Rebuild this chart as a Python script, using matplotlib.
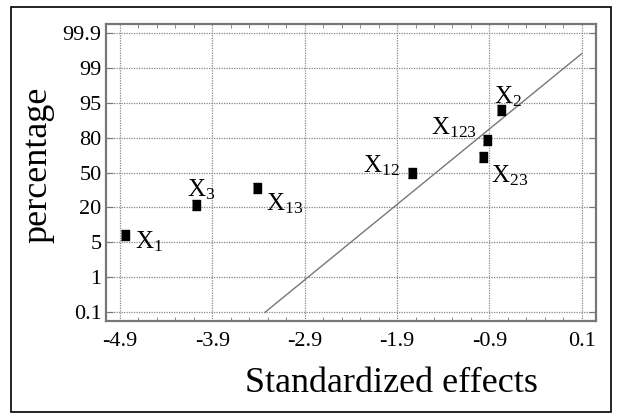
import numpy as np
import matplotlib
matplotlib.use("Agg")
import matplotlib.pyplot as plt
from matplotlib.ticker import FixedLocator
from matplotlib.patches import Rectangle
from statistics import NormalDist

plt.rcParams["font.family"] = "Liberation Serif"
plt.rcParams["mathtext.fontset"] = "custom"
plt.rcParams["mathtext.rm"] = "Liberation Serif"
plt.rcParams["mathtext.it"] = "Liberation Serif"

# data
names = ["1", "3", "13", "12", "23", "123", "2"]
effects = [-4.85, -4.08, -3.42, -1.74, -0.97, -0.93, -0.78]
percents = [7.14, 21.43, 35.71, 50.0, 64.29, 78.57, 92.86]
line_x = [-3.33, 0.1]
line_pct = [0.1, 99.58]

y_ticks = [0.1, 1, 5, 20, 50, 80, 95, 99, 99.9]
y_labels = ["0.1", "1", "5", "20", "50", "80", "95", "99", "99.9"]
x_ticks = [-4.9, -3.9, -2.9, -1.9, -0.9, 0.1]
x_labels = ["-4.9", "-3.9", "-2.9", "-1.9", "-0.9", "0.1"]

# label offsets in pixels (x, y) and alignment
lab_off = [(10, -14, "left"), (-9, 9, "left"), (9, -23, "left"), (-12, 0, "right"),
           (8, -25, "left"), (-10, 5, "right"), (-7, 7, "left")]

# probability axis: tick percentages equally spaced, normal quantiles in between
nd = NormalDist()
zt = np.array([nd.inv_cdf(p / 100) for p in y_ticks])
it = np.arange(len(y_ticks), dtype=float)


def _pw(x, xs, ys):
    x = np.asarray(x, dtype=float)
    y = np.interp(x, xs, ys)
    lo = x < xs[0]
    hi = x > xs[-1]
    y = np.where(lo, ys[0] + (x - xs[0]) * (ys[1] - ys[0]) / (xs[1] - xs[0]), y)
    y = np.where(hi, ys[-1] + (x - xs[-1]) * (ys[-1] - ys[-2]) / (xs[-1] - xs[-2]), y)
    return y


_z = np.vectorize(lambda p: nd.inv_cdf(min(max(p / 100, 1e-12), 1 - 1e-12)), otypes=[float])
_p = np.vectorize(lambda z: nd.cdf(z) * 100, otypes=[float])


def fwd(p):
    return _pw(_z(p), zt, it)


def inv(i):
    return _p(_pw(i, it, zt))


fig = plt.figure(figsize=(6.2, 4.17), dpi=100)
fig.patches.append(Rectangle((11 / 620, 1 - 412 / 417), 600 / 620, 405 / 417,
                             transform=fig.transFigure, fill=False,
                             edgecolor="black", linewidth=1.2))
ax = fig.add_axes([0.1705, 0.231, 0.7905, 0.7114])
ax.set_yscale("function", functions=(fwd, inv))

ax.plot(line_x, line_pct, color="#777777", linewidth=1.0, zorder=2)

rect = [(-0.72, -1), (0.72, -1), (0.72, 1), (-0.72, 1)]
ax.plot(effects, percents, linestyle="none", marker=rect, markersize=7.8,
        color="black", zorder=3)

for x, y, n, (dx, dy, ha) in zip(effects, percents, names, lab_off):
    ax.annotate(r"$\mathregular{X_{%s}}$" % n, (x, y), xytext=(dx, dy),
                textcoords="offset pixels", ha=ha, va="baseline", fontsize=18)

ax.set_xlim(-5.055, 0.252)
ax.set_ylim(float(inv(-0.24)), float(inv(8.25)))

ax.yaxis.set_major_locator(FixedLocator(y_ticks))
ax.set_yticklabels(y_labels)
ax.yaxis.set_minor_locator(FixedLocator([]))
ax.xaxis.set_major_locator(FixedLocator(x_ticks))
ax.set_xticklabels(x_labels)
ax.xaxis.set_minor_locator(FixedLocator(np.arange(-4.9, 0.15, 0.2)))

ax.grid(True, which="major", color="#888888", linestyle=(0, (1, 1)), linewidth=0.9)
ax.tick_params(which="both", direction="in", top=True, right=True,
               color="#777777", labelsize=16)
ax.tick_params(axis="y", which="major", length=5, pad=3)
ax.tick_params(axis="x", which="major", length=0, pad=8)
ax.tick_params(axis="x", which="minor", length=3)
for s in ax.spines.values():
    s.set_color("#777777")
    s.set_linewidth(1.6)

ax.set_xlabel("Standardized effects", fontsize=26, labelpad=12, x=0.582)
ax.set_ylabel("percentage", fontsize=26, labelpad=6, y=0.525)

fig.savefig("out.png", dpi=100)
